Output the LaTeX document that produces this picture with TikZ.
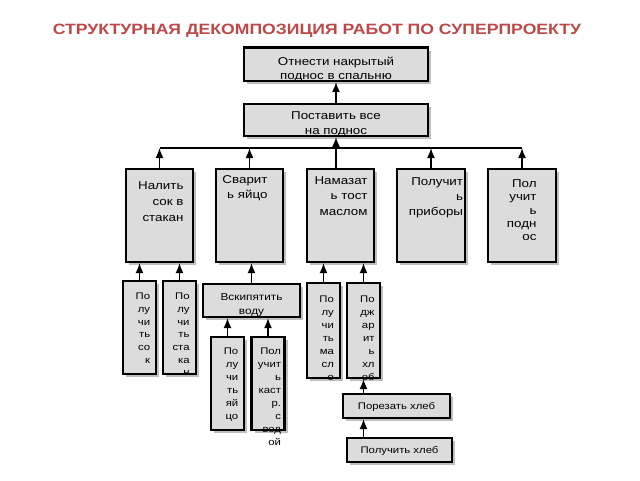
\documentclass[tikz,border=0pt]{standalone}
\usepackage{fontspec}
\setmainfont{Liberation Sans}[FakeStretch=1.18]
\usetikzlibrary{arrows.meta,shadows}

\definecolor{titlered}{RGB}{188,72,72}
\definecolor{boxgray}{RGB}{220,220,220}
\definecolor{shadowgray}{RGB}{190,190,190}

\tikzset{every picture/.style={line width=0.75pt}}
\tikzset{
  box/.style={draw, line width=1.6pt, fill=boxgray, inner sep=0pt,
    drop shadow={shadow xshift=2.25pt, shadow yshift=-2.25pt, fill=shadowgray, opacity=1}},
  rtxt/.style={inner sep=0pt, align=right, anchor=north east},
  ctxt/.style={inner sep=0pt, align=center, anchor=north},
  arr/.style={line width=1.1pt, -{Latex[length=7.5pt,width=6pt]}},
}

\begin{document}
\begin{tikzpicture}[x=0.75pt,y=0.75pt,yscale=-1,xscale=1]
\useasboundingbox (0,0) rectangle (640,480);

% Title
\node[anchor=base, inner sep=0pt, text=titlered, font=\fontsize{11.2}{13}\selectfont\bfseries] (title) at (317,34.7) {СТРУКТУРНАЯ ДЕКОМПОЗИЦИЯ РАБОТ ПО СУПЕРПРОЕКТУ};

% Text Node
\node[box, minimum width=138pt, minimum height=25.1pt] (otnesti) at (336,64.25) {};
\node[ctxt, font=\fontsize{8.5}{10.5}\selectfont] (otnesti-t) at ([shift={(0,8.7)}]otnesti.north) {\strut Отнести накрытый\\поднос в спальню};
% Text Node
\node[box, minimum width=138pt, minimum height=24pt] (postavit) at (336,120) {};
\node[ctxt, font=\fontsize{8.5}{11.25}\selectfont] (postavit-t) at ([shift={(0,5.5)}]postavit.north) {\strut Поставить все\\на поднос};

% Text Node
\node[box, minimum width=50.25pt, minimum height=69.75pt] (nalit) at (159.5,215.5) {};
\node[rtxt, font=\fontsize{8.5}{12}\selectfont] (nalit-t) at ([shift={(-10,9.8)}]nalit.north east) {\strut Налить\\сок в\\стакан};
% Text Node
\node[box, minimum width=50.25pt, minimum height=69.75pt] (svarit) at (249.5,215.5) {};
\node[rtxt, font=\fontsize{8.5}{11.25}\selectfont] (svarit-t) at ([shift={(-16,4.5)}]svarit.north east) {\strut Сварит\\ь яйцо};
% Text Node
\node[box, minimum width=50.25pt, minimum height=69.75pt] (namazat) at (340.5,215.5) {};
\node[rtxt, font=\fontsize{8.5}{11.6}\selectfont] (namazat-t) at ([shift={(-7,4.8)}]namazat.north east) {\strut Намазат\\ь тост\\маслом};
% Text Node
\node[box, minimum width=51pt, minimum height=69.75pt] (pribory) at (431,215.5) {};
\node[rtxt, font=\fontsize{8.5}{11.25}\selectfont] (pribory-t) at ([shift={(-2.5,6.5)}]pribory.north east) {\strut Получит\\ь\\приборы};
% Text Node
\node[box, minimum width=51pt, minimum height=69.75pt] (podnos) at (522,215.5) {};
\node[rtxt, font=\fontsize{8.5}{10}\selectfont] (podnos-t) at ([shift={(-20,9.7)}]podnos.north east) {\strut Пол\\учит\\ь\\подн\\ос};

% Text Node
\node[box, minimum width=24.75pt, minimum height=69.75pt] (sok) at (139.5,327.5) {};
\node[rtxt, font=\fontsize{7.2}{9.5}\selectfont] (sok-t) at ([shift={(-6.4,10.4)}]sok.north east) {\strut По\\лу\\чи\\ть\\со\\к};
% Text Node
\node[box, minimum width=24.75pt, minimum height=69.75pt] (stakan) at (179.5,327.5) {};
\node[rtxt, font=\fontsize{7.2}{9.5}\selectfont] (stakan-t) at ([shift={(-7,10.4)}]stakan.north east) {\strut По\\лу\\чи\\ть\\ста\\ка\\н};
% Text Node
\node[box, minimum width=72.75pt, minimum height=24.75pt] (kipyat) at (251.5,300.5) {};
\node[ctxt, font=\fontsize{7.5}{10.5}\selectfont] (kipyat-t) at ([shift={(0,7.2)}]kipyat.north) {\strut Вскипятить\\воду};
% Text Node
\node[box, minimum width=24.75pt, minimum height=69.75pt] (yaico) at (227.5,383.5) {};
\node[rtxt, font=\fontsize{7.2}{9.75}\selectfont] (yaico-t) at ([shift={(-6.3,9.4)}]yaico.north east) {\strut По\\лу\\чи\\ть\\яй\\цо};
% Text Node
\node[box, minimum width=24.75pt, minimum height=69.75pt] (kastr) at (268,383.5) {};
\node[rtxt, font=\fontsize{7.2}{9.75}\selectfont] (kastr-t) at ([shift={(-4,9.4)}]kastr.north east) {\strut Пол\\учит\\ь\\каст\\р.\\с\\вод\\ой};
% Text Node
\node[box, minimum width=24.75pt, minimum height=71.25pt] (maslo) at (323.5,330.5) {};
\node[rtxt, font=\fontsize{7.2}{9.75}\selectfont] (maslo-t) at ([shift={(-6.7,11.4)}]maslo.north east) {\strut По\\лу\\чи\\ть\\ма\\сл\\о};
% Text Node
\node[box, minimum width=24.75pt, minimum height=71.25pt] (podzhar) at (363.5,330.5) {};
\node[rtxt, font=\fontsize{7.2}{9.75}\selectfont] (podzhar-t) at ([shift={(-6,11.4)}]podzhar.north east) {\strut По\\дж\\ар\\ит\\ь\\хл\\еб};
% Text Node
\node[box, minimum width=80.25pt, minimum height=18pt] (porezat) at (396.5,406) {};
\node[ctxt, font=\fontsize{7.2}{9.75}\selectfont] (porezat-t) at ([shift={(0,7.4)}]porezat.north) {\strut Порезать хлеб};
% Text Node
\node[box, minimum width=78.75pt, minimum height=18pt] (khleb) at (399.5,450) {};
\node[ctxt, font=\fontsize{7.2}{9.75}\selectfont] (khleb-t) at ([shift={(0,7.4)}]khleb.north) {\strut Получить хлеб};

% Connection
\draw[arr] (postavit) -- (otnesti);
\coordinate (busL) at (160,148);
\coordinate (busR) at (522,148);
\draw[line width=1.3pt] (busL) -- (busR);
\draw[arr] (postavit |- namazat.north) -- (postavit);
\draw[arr] (nalit) -- (nalit |- busL);
\draw[arr] (svarit) -- (svarit |- busL);
\draw[arr] (pribory) -- (pribory |- busL);
\draw[arr] (podnos) -- (podnos |- busL);
% Connection
\draw[arr] (sok) -- (sok |- nalit.south);
\draw[arr] (stakan) -- (stakan |- nalit.south);
\draw[arr] (kipyat) -- (kipyat |- svarit.south);
\draw[arr] (yaico) -- (yaico |- kipyat.south);
\draw[arr] (kastr) -- (kastr |- kipyat.south);
\draw[arr] (maslo) -- (maslo |- namazat.south);
\draw[arr] (podzhar) -- (podzhar |- namazat.south);
\draw[arr] (podzhar |- porezat.north) -- (podzhar);
\draw[arr] (podzhar |- khleb.north) -- (podzhar |- porezat.south);

\end{tikzpicture}
\end{document}
